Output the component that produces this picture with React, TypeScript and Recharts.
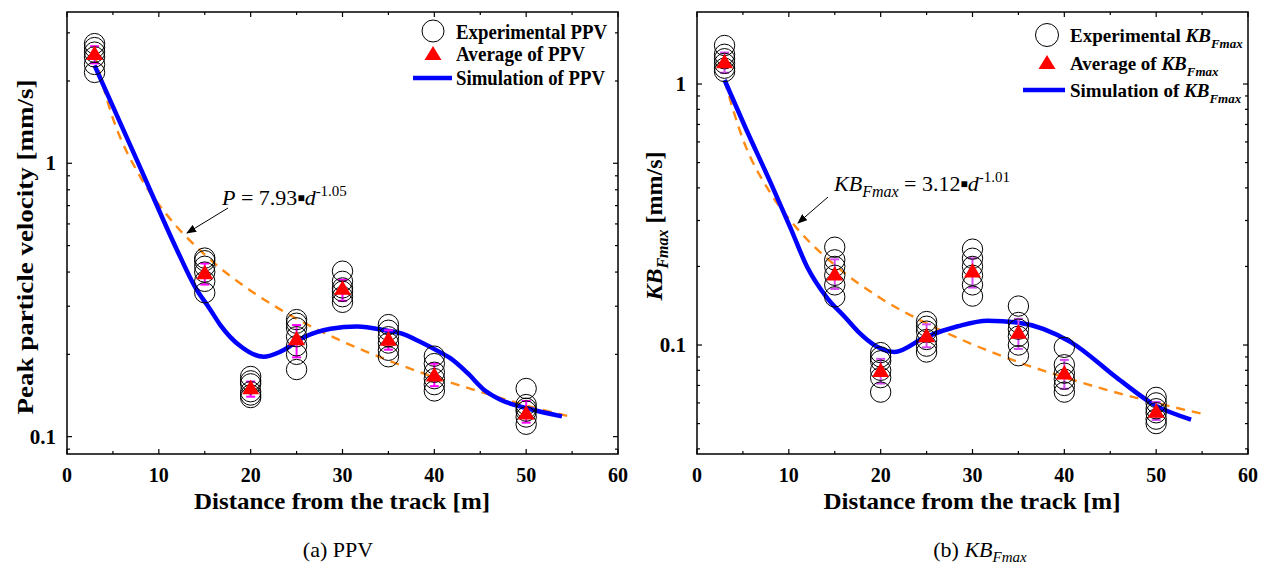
import React from "react";
import {
  ComposedChart,
  ErrorBar,
  Line,
  ReferenceArea,
  Scatter,
  XAxis,
  YAxis,
} from "recharts";

// distances of the measuring points [m]
const distances = [3, 15, 20, 25, 30, 35, 40, 50];

// (a) PPV - individual measurements per distance
const ppvExperimental = [
  [2.74, 2.65, 2.55, 2.45, 2.3, 2.15],
  [0.45, 0.44, 0.42, 0.4, 0.37, 0.336],
  [0.166, 0.16, 0.156, 0.146, 0.142, 0.139],
  [0.268, 0.26, 0.25, 0.232, 0.215, 0.2, 0.176],
  [0.403, 0.37, 0.35, 0.34, 0.325, 0.31],
  [0.257, 0.245, 0.232, 0.22, 0.207, 0.196],
  [0.197, 0.185, 0.172, 0.163, 0.155, 0.147],
  [0.15, 0.131, 0.127, 0.124, 0.118, 0.111],
];
const ppvAverage = [2.52, 0.398, 0.151, 0.228, 0.349, 0.227, 0.168, 0.122];
const ppvLow = [2.32, 0.36, 0.14, 0.195, 0.314, 0.208, 0.153, 0.1125];
const ppvHigh = [2.68, 0.43, 0.159, 0.256, 0.375, 0.245, 0.185, 0.135];

const ppvSimX = [3, 8, 12, 14, 15.5, 16.7, 18.9, 21.4, 23.3, 25.8, 28.7, 31.6, 34.9, 36.3, 38.5, 40.7, 41.7, 43.6, 45.4, 47.2, 50.1, 53.9];
const ppvSimY = [2.28, 0.96, 0.48, 0.35, 0.295, 0.256, 0.214, 0.196, 0.205, 0.231, 0.248, 0.253, 0.244, 0.239, 0.222, 0.203, 0.194, 0.171, 0.1485, 0.1365, 0.127, 0.1186];

const fitX = [3, 5, 8, 11, 15, 20, 25, 30, 35, 40, 45, 50, 55];
const ppvFitY = [2.5, 1.46, 0.89, 0.64, 0.463, 0.342, 0.27, 0.223, 0.19, 0.165, 0.146, 0.13, 0.118];

// (b) KB_Fmax
const kbExperimental = [
  [1.405, 1.3, 1.25, 1.2, 1.15, 1.117],
  [0.237, 0.212, 0.2, 0.185, 0.17, 0.153],
  [0.0935, 0.09, 0.087, 0.08, 0.075, 0.066],
  [0.123, 0.118, 0.113, 0.105, 0.099, 0.094],
  [0.233, 0.215, 0.2, 0.185, 0.17, 0.154],
  [0.141, 0.122, 0.115, 0.108, 0.1, 0.091],
  [0.098, 0.084, 0.078, 0.074, 0.07, 0.066],
  [0.063, 0.06, 0.057, 0.055, 0.052, 0.05],
];
const kbAverage = [1.216, 0.187, 0.0798, 0.1086, 0.192, 0.112, 0.0782, 0.0558];
const kbLow = [1.105, 0.164, 0.0712, 0.098, 0.166, 0.0966, 0.068, 0.0516];
const kbHigh = [1.32, 0.213, 0.0885, 0.12, 0.215, 0.126, 0.0877, 0.0605];

const kbSimX = [3, 5.4, 8, 10.2, 12, 14.2, 16.1, 17.6, 19.5, 21.5, 24.8, 28.4, 31.6, 34.9, 40.7, 45.9, 49.9, 53.8];
const kbSimY = [1.036, 0.665, 0.42, 0.28, 0.199, 0.151, 0.128, 0.112, 0.099, 0.094, 0.107, 0.118, 0.124, 0.122, 0.1026, 0.074, 0.0587, 0.0518];

const kbFitY = [1.03, 0.614, 0.382, 0.277, 0.2025, 0.151, 0.121, 0.1006, 0.086, 0.0752, 0.0667, 0.06, 0.0545];

// axis ticks
const xTicks = [0, 5, 10, 15, 20, 25, 30, 35, 40, 45, 50, 55, 60];
const ppvTicks = [0.09, 0.1, 0.2, 0.3, 0.4, 0.5, 0.6, 0.7, 0.8, 0.9, 1, 2, 3];
const kbTicks = [0.04, 0.05, 0.06, 0.07, 0.08, 0.09, 0.1, 0.2, 0.3, 0.4, 0.5, 0.6, 0.7, 0.8, 0.9, 1];
const yLabels = [0.1, 1];

const serif = '"Liberation Serif", "Times New Roman", serif';
const W = 634;
const H = 566;
const plotTop = 12;
const plotBottom = 454;

const circleRows = (groups: number[][]) =>
  groups.flatMap((g, i) => g.map((y) => ({ x: distances[i], y })));
const averageRows = (avg: number[], low: number[], high: number[]) =>
  distances.map((x, i) => ({ x, y: avg[i], err: [avg[i] - low[i], high[i] - avg[i]] }));
const curveRows = (xs: number[], ys: number[]) => xs.map((x, i) => ({ x, y: ys[i] }));

const OpenCircle = (p: any) => (
  <circle cx={p.cx} cy={p.cy} r={10.2} fill="none" stroke="#000" strokeWidth={1} />
);
const Triangle = (p: any) => (
  <path
    d={`M${p.cx},${p.cy - 8} L${p.cx + 8.5},${p.cy + 6.5} L${p.cx - 8.5},${p.cy + 6.5} Z`}
    fill="#ff0000"
  />
);
const NoShape = () => <g />;

const makeXTick = () => (props: any) => {
  const { x, payload } = props;
  const major = payload.value % 10 === 0;
  const len = major ? 5 : 3;
  return (
    <g>
      <line x1={x} x2={x} y1={plotBottom} y2={plotBottom - len} stroke="#000" strokeWidth={1.2} />
      <line x1={x} x2={x} y1={plotTop} y2={plotTop + len} stroke="#000" strokeWidth={1.2} />
      {major && (
        <text x={x} y={482} textAnchor="middle" fontSize={20} fontWeight="bold" fontFamily={serif} fill="#000">
          {String(payload.value)}
        </text>
      )}
    </g>
  );
};

const makeYTick = (pl: number, pr: number) => (props: any) => {
  const { y, payload } = props;
  const major = yLabels.includes(payload.value);
  const len = major ? 5 : 3;
  return (
    <g>
      <line x1={pl} x2={pl + len} y1={y} y2={y} stroke="#000" strokeWidth={1.2} />
      <line x1={pr - len} x2={pr} y1={y} y2={y} stroke="#000" strokeWidth={1.2} />
      {major && (
        <text x={pl - 11} y={y + 7} textAnchor="end" fontSize={21} fontWeight="bold" fontFamily={serif} fill="#000">
          {String(payload.value)}
        </text>
      )}
    </g>
  );
};

type PanelProps = {
  plotLeft: number;
  rightMargin: number;
  domain: [number, number];
  ticks: number[];
  circles: { x: number; y: number }[];
  averages: { x: number; y: number; err: number[] }[];
  sim: { x: number; y: number }[];
  fit: { x: number; y: number }[];
  errColor: string;
};

const Panel = ({ plotLeft, rightMargin, domain, ticks, circles, averages, sim, fit, errColor }: PanelProps) => {
  const plotRight = W - rightMargin;
  return (
    <ComposedChart width={W} height={H} margin={{ top: plotTop, right: rightMargin, bottom: 0, left: 0 }}>
      <XAxis
        type="number"
        dataKey="x"
        domain={[0, 60]}
        ticks={xTicks}
        interval={0}
        allowDataOverflow
        height={H - plotBottom}
        axisLine={false}
        tickLine={false}
        tick={makeXTick()}
      />
      <YAxis
        type="number"
        dataKey="y"
        scale="log"
        domain={domain}
        ticks={ticks}
        interval={0}
        allowDataOverflow
        width={plotLeft}
        axisLine={false}
        tickLine={false}
        tick={makeYTick(plotLeft, plotRight)}
      />
      <ReferenceArea
        x1={0}
        x2={60}
        y1={domain[0]}
        y2={domain[1]}
        fill="none"
        stroke="#000"
        strokeWidth={1.5}
        ifOverflow="visible"
      />
      <Scatter data={circles} shape={OpenCircle} isAnimationActive={false} />
      <Line
        data={fit}
        dataKey="y"
        type="monotone"
        stroke="#ff8a14"
        strokeWidth={2.4}
        strokeDasharray="9 7"
        dot={false}
        isAnimationActive={false}
      />
      <Line
        data={sim}
        dataKey="y"
        type="monotone"
        stroke="#0000ff"
        strokeWidth={4.5}
        dot={false}
        isAnimationActive={false}
      />
      <Scatter data={averages} shape={Triangle} isAnimationActive={false} />
      {/* error bars drawn on top of the triangles */}
      <Scatter data={averages} shape={NoShape} isAnimationActive={false}>
        <ErrorBar dataKey="err" direction="y" width={4.5} stroke={errColor} strokeWidth={2} />
      </Scatter>
    </ComposedChart>
  );
};

const Overlay = () => (
  <svg
    width={1268}
    height={566}
    style={{ position: "absolute", left: 0, top: 0, pointerEvents: "none" }}
    fontFamily={serif}
  >
    <defs>
      <marker id="arr" markerWidth="10" markerHeight="8" refX="9" refY="4" orient="auto" markerUnits="userSpaceOnUse">
        <path d="M0,0 L10,4 L0,8 Z" fill="#000" />
      </marker>
    </defs>

    {/* left panel titles */}
    <text
      x={33}
      y={247}
      transform="rotate(-90 33 247)"
      textAnchor="middle"
      fontSize={24}
      fontWeight="bold"
      textLength={335}
      lengthAdjust="spacingAndGlyphs"
    >
      Peak particle velocity [mm/s]
    </text>
    <text x={342} y={509} textAnchor="middle" fontSize={24} fontWeight="bold" textLength={296} lengthAdjust="spacingAndGlyphs">
      Distance from the track [m]
    </text>
    <text x={338} y={557} textAnchor="middle" fontSize={22}>
      (a) PPV
    </text>

    {/* left legend */}
    <circle cx={433} cy={31} r={11} fill="none" stroke="#000" strokeWidth={1} />
    <path d="M433,46 L441.5,60 L424.5,60 Z" fill="#ff0000" />
    <line x1={413} x2={452} y1={78} y2={78} stroke="#0000ff" strokeWidth={4.5} />
    <g fontSize={20} fontWeight="bold">
      <text x={456} y={39} textLength={151} lengthAdjust="spacingAndGlyphs">Experimental PPV</text>
      <text x={456} y={61} textLength={129} lengthAdjust="spacingAndGlyphs">Average of PPV</text>
      <text x={456} y={85} textLength={149} lengthAdjust="spacingAndGlyphs">Simulation of PPV</text>
    </g>

    {/* left annotation */}
    <text x={222} y={205} fontSize={22}>
      <tspan fontStyle="italic">P</tspan>
      <tspan>{" = 7.93"}</tspan>
      <tspan fontSize={12} dy={-3}>{"\u25A0"}</tspan>
      <tspan fontStyle="italic" dy={3}>d</tspan>
      <tspan fontSize={15} dy={-9}>-1.05</tspan>
    </text>
    <line x1={228} y1={208} x2={187} y2={233} stroke="#000" strokeWidth={1} markerEnd="url(#arr)" />

    {/* right panel titles */}
    <text x={662} y={226} transform="rotate(-90 662 226)" textAnchor="middle" fontSize={24} fontWeight="bold">
      <tspan fontStyle="italic">KB</tspan>
      <tspan fontStyle="italic" fontSize={16} dy={6}>Fmax</tspan>
      <tspan dy={-6}>{" [mm/s]"}</tspan>
    </text>
    <text x={972} y={509} textAnchor="middle" fontSize={24} fontWeight="bold" textLength={297} lengthAdjust="spacingAndGlyphs">
      Distance from the track [m]
    </text>
    <text x={980} y={557} textAnchor="middle" fontSize={22}>
      <tspan>{"(b) "}</tspan>
      <tspan fontStyle="italic">KB</tspan>
      <tspan fontStyle="italic" fontSize={15} dy={5}>Fmax</tspan>
    </text>

    {/* right legend */}
    <circle cx={1047} cy={35} r={11.5} fill="none" stroke="#000" strokeWidth={1} />
    <path d="M1047,55 L1055.5,69 L1038.5,69 Z" fill="#ff0000" />
    <line x1={1023} x2={1065} y1={90} y2={90} stroke="#0000ff" strokeWidth={4.5} />
    <g fontSize={19} fontWeight="bold">
      <text x={1070} y={42}>
        <tspan>{"Experimental "}</tspan>
        <tspan fontStyle="italic">KB</tspan>
        <tspan fontStyle="italic" fontSize={13} dy={6}>Fmax</tspan>
      </text>
      <text x={1070} y={70}>
        <tspan>{"Average of "}</tspan>
        <tspan fontStyle="italic">KB</tspan>
        <tspan fontStyle="italic" fontSize={13} dy={6}>Fmax</tspan>
      </text>
      <text x={1070} y={97}>
        <tspan>{"Simulation of "}</tspan>
        <tspan fontStyle="italic">KB</tspan>
        <tspan fontStyle="italic" fontSize={13} dy={6}>Fmax</tspan>
      </text>
    </g>

    {/* right annotation */}
    <text x={834} y={191} fontSize={22}>
      <tspan fontStyle="italic">KB</tspan>
      <tspan fontStyle="italic" fontSize={16} dy={6}>Fmax</tspan>
      <tspan dy={-6}>{" = 3.12"}</tspan>
      <tspan fontSize={12} dy={-3}>{"\u25A0"}</tspan>
      <tspan fontStyle="italic" dy={3}>d</tspan>
      <tspan fontSize={15} dy={-9}>-1.01</tspan>
    </text>
    <line x1={828} y1={197} x2={798} y2={223} stroke="#000" strokeWidth={1} markerEnd="url(#arr)" />
  </svg>
);

export default function App() {
  return (
    <div
      style={{
        position: "absolute",
        left: 0,
        top: 0,
        width: 1268,
        height: 566,
        background: "#fff",
        overflow: "hidden",
      }}
    >
      <div style={{ position: "absolute", left: 0, top: 0 }}>
        <Panel
          plotLeft={67}
          rightMargin={16}
          domain={[0.0864, 3.576]}
          ticks={ppvTicks}
          circles={circleRows(ppvExperimental)}
          averages={averageRows(ppvAverage, ppvLow, ppvHigh)}
          sim={curveRows(ppvSimX, ppvSimY)}
          fit={curveRows(fitX, ppvFitY)}
          errColor="#ff00ff"
        />
      </div>
      <div style={{ position: "absolute", left: 634, top: 0 }}>
        <Panel
          plotLeft={63}
          rightMargin={20}
          domain={[0.03823, 1.888]}
          ticks={kbTicks}
          circles={circleRows(kbExperimental)}
          averages={averageRows(kbAverage, kbLow, kbHigh)}
          sim={curveRows(kbSimX, kbSimY)}
          fit={curveRows(fitX, kbFitY)}
          errColor="#d24cf0"
        />
      </div>
      <Overlay />
    </div>
  );
}
